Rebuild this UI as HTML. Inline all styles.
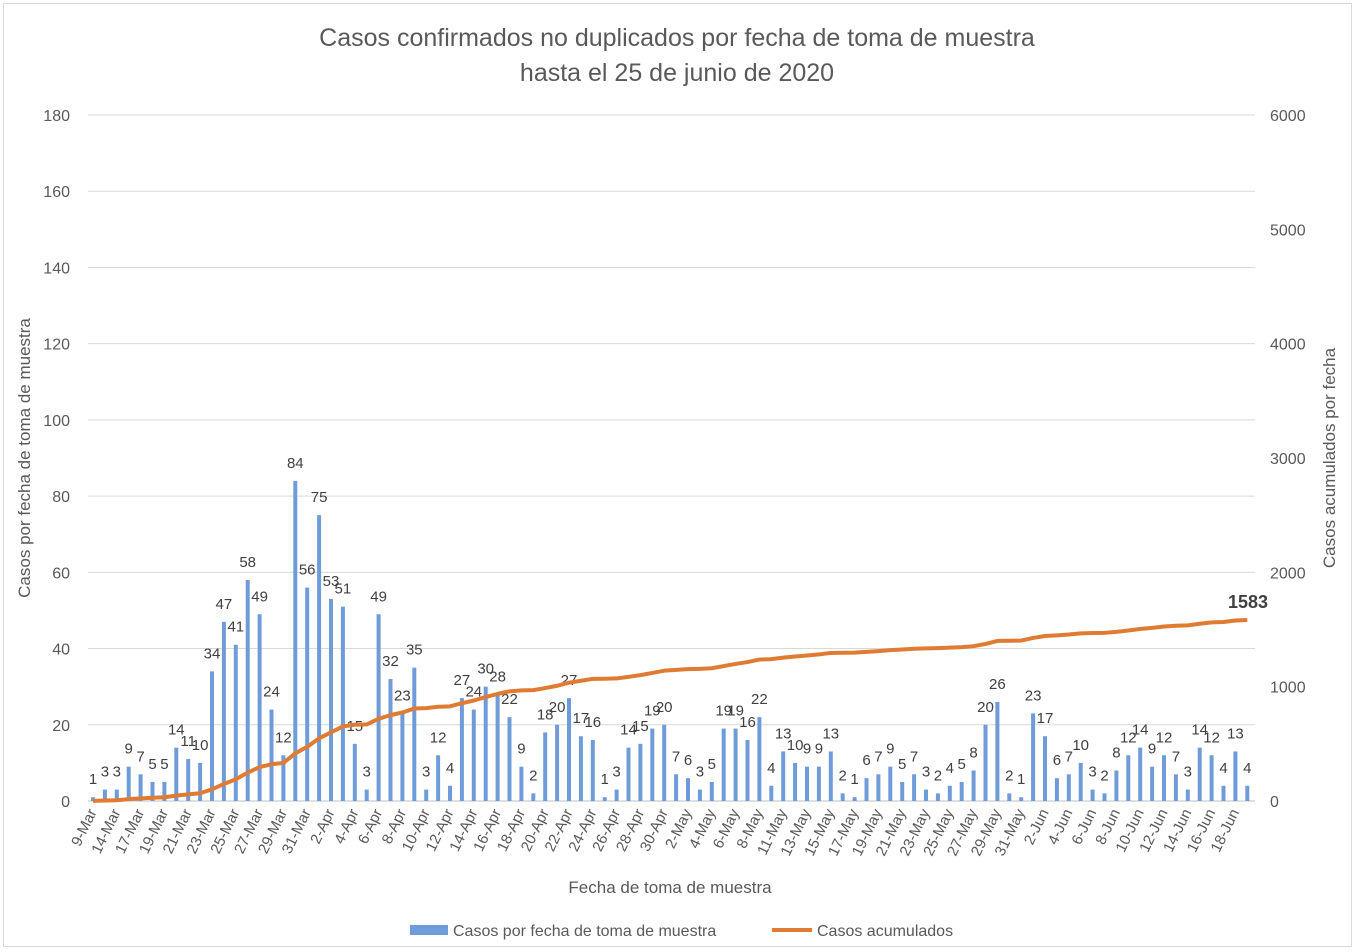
<!DOCTYPE html>
<html><head><meta charset="utf-8"><style>
body{margin:0;background:#fff;}
svg{display:block;font-family:"Liberation Sans",sans-serif;}
</style></head><body>
<svg id="c" width="1355" height="952" xmlns="http://www.w3.org/2000/svg">
<rect x="3.5" y="3.5" width="1348" height="943" fill="#fff" stroke="#d9d9d9"/>
<text x="677" y="46" text-anchor="middle" font-size="25" fill="#595959">Casos confirmados no duplicados por fecha de toma de muestra</text>
<text x="677" y="81" text-anchor="middle" font-size="25" fill="#595959">hasta el 25 de junio de 2020</text>
<text transform="translate(30,458) rotate(-90)" text-anchor="middle" font-size="17" fill="#595959">Casos por fecha de toma de muestra</text>
<text transform="translate(1335,458) rotate(-90)" text-anchor="middle" font-size="17" fill="#595959">Casos acumulados por fecha</text>
<text x="670" y="893" text-anchor="middle" font-size="17" fill="#595959">Fecha de toma de muestra</text>
<rect x="410" y="925" width="38" height="10" fill="#6f9bd9"/>
<text x="453" y="936" font-size="16" fill="#595959">Casos por fecha de toma de muestra</text>
<line x1="772" y1="930" x2="812" y2="930" stroke="#e07b34" stroke-width="4"/>
<text x="817" y="936" font-size="16" fill="#595959">Casos acumulados</text>
<g id="g"></g>
</svg>
<script>
var v=[1,3,3,9,7,5,5,14,11,10,34,47,41,58,49,24,12,84,56,75,53,51,15,3,49,32,23,35,3,12,4,27,24,30,28,22,9,2,18,20,27,17,16,1,3,14,15,19,20,7,6,3,5,19,19,16,22,4,13,10,9,9,13,2,1,6,7,9,5,7,3,2,4,5,8,20,26,2,1,23,17,6,7,10,3,2,8,12,14,9,12,7,3,14,12,4,13,4];
var d=["9-Mar","14-Mar","17-Mar","19-Mar","21-Mar","23-Mar","25-Mar","27-Mar","29-Mar","31-Mar","2-Apr","4-Apr","6-Apr","8-Apr","10-Apr","12-Apr","14-Apr","16-Apr","18-Apr","20-Apr","22-Apr","24-Apr","26-Apr","28-Apr","30-Apr","2-May","4-May","6-May","8-May","11-May","13-May","15-May","17-May","19-May","21-May","23-May","25-May","27-May","29-May","31-May","2-Jun","4-Jun","6-Jun","8-Jun","10-Jun","12-Jun","14-Jun","16-Jun","18-Jun"];
var s="",y0=801,h=686,x0=93,dx=11.9;
for(var i=0;i<=9;i++){var y=y0-i*h/9;s+='<line x1="88" x2="1255" y1="'+y+'" y2="'+y+'" stroke="'+(i?'#d9d9d9':'#bfbfbf')+'"/>';
s+='<text x="70" y="'+(y+6)+'" text-anchor="end" font-size="16" fill="#595959">'+(i*20)+'</text>';}
for(var i=0;i<=6;i++){var y=y0-i*h/6;s+='<text x="1270" y="'+(y+6)+'" font-size="16" fill="#595959">'+(i*1000)+'</text>';}
var c=0,p="";
for(var i=0;i<v.length;i++){var x=x0+i*dx,bh=v[i]*h/180;
s+='<rect x="'+(x-2)+'" y="'+(y0-bh)+'" width="4" height="'+bh+'" fill="#6f9bd9"/>';
s+='<text x="'+x+'" y="'+(y0-bh-13)+'" text-anchor="middle" font-size="15" fill="#404040">'+v[i]+'</text>';
c+=v[i];p+=(i?'L':'M')+x+','+(y0-c*h/6000);}
s+='<path d="'+p+'" fill="none" stroke="#e07b34" stroke-width="4" stroke-linejoin="round"/>';
s+='<text x="1228" y="608" font-size="18" font-weight="bold" fill="#404040">1583</text>';
for(var j=0;j<d.length;j++){var x=x0+j*2*dx+4;
s+='<text transform="translate('+x+',812) rotate(-64)" text-anchor="end" font-size="15" fill="#595959">'+d[j]+'</text>';}
document.getElementById('g').innerHTML=s;
</script>
</body></html>
